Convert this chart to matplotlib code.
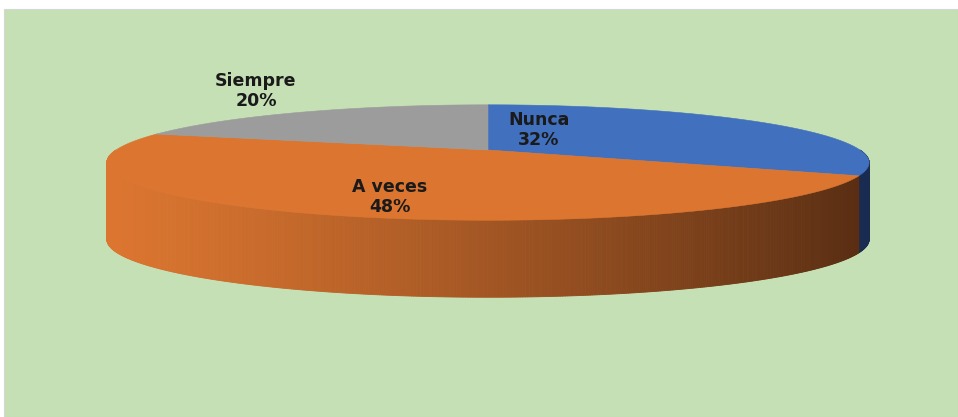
import numpy as np
import matplotlib.pyplot as plt
from matplotlib.patches import Polygon, Rectangle
from matplotlib.colors import to_rgb

# data
labels = ["Nunca", "A veces", "Siempre"]
percents = [32, 48, 20]
top_colors = ["#4170BE", "#DB7530", "#9C9C9C"]
side_light = ["#22396B", "#DB7530", "#7A7A7A"]
side_dark = ["#1A2B52", "#5A2E13", "#5E5E5E"]
label_pos = [(539, 130), (390, 197), (256, 91)]

# pixel canvas
W, H = 958, 417
CX, CY = 488, 150      # pie apex
A, B = 372, 55         # radii of the top face
K = 0.217              # perspective strength
DEPTH = 77             # thickness of the pie


def project(theta):
    u, v = np.cos(theta), np.sin(theta)
    s = 1.0 / (1.0 + K * v)
    return CX + A * u * s, CY - B * v * s


def lerp(c1, c2, f):
    c1, c2 = np.array(to_rgb(c1)), np.array(to_rgb(c2))
    return tuple(c1 + (c2 - c1) * f)


fig = plt.figure(figsize=(W / 100, H / 100), dpi=100)
ax = fig.add_axes([0, 0, 1, 1])
ax.set_xlim(0, W)
ax.set_ylim(H, 0)
ax.axis("off")

ax.add_patch(Rectangle((4, 9), W - 4, H - 9, facecolor="#C5E0B4",
                       edgecolor="#D6D6D6", lw=0.8, zorder=0))

# wedge angle ranges, clockwise from 12 o'clock
total = sum(percents)
starts, ends = [], []
a0 = np.pi / 2
for p in percents:
    a1 = a0 - 2 * np.pi * p / total
    starts.append(a0)
    ends.append(a1)
    a0 = a1

xmin, _ = project(np.pi)
xmax, _ = project(0.0)

# side walls (front half only: theta in [-pi, 0])
for i in range(len(percents)):
    hi, lo = starts[i], ends[i]
    for shift in (0, -2 * np.pi, 2 * np.pi):
        h2 = min(hi + shift, 0.0)
        l2 = max(lo + shift, -np.pi)
        if h2 <= l2:
            continue
        th = np.linspace(l2, h2, max(2, int((h2 - l2) * 200)))
        xs, ys = project(th)
        for j in range(len(th) - 1):
            xm = 0.5 * (xs[j] + xs[j + 1])
            f = np.clip((xm - xmin) / (xmax - xmin), 0, 1) ** 1.2
            c = lerp(side_light[i], side_dark[i], f)
            quad = [(xs[j], ys[j]), (xs[j + 1], ys[j + 1]),
                    (xs[j + 1], ys[j + 1] + DEPTH), (xs[j], ys[j] + DEPTH)]
            ax.add_patch(Polygon(quad, closed=True, facecolor=c,
                                 edgecolor=c, lw=0.6, zorder=1))

# top faces
for i in range(len(percents)):
    th = np.linspace(starts[i], ends[i], 300)
    xs, ys = project(th)
    pts = [(CX, CY)] + list(zip(xs, ys))
    ax.add_patch(Polygon(pts, closed=True, facecolor=top_colors[i],
                         edgecolor=top_colors[i], lw=0.4, zorder=2))

# labels
for name, p, (lx, ly) in zip(labels, percents, label_pos):
    ax.text(lx, ly, f"{name}\n{p}%", ha="center", va="center",
            fontsize=12.5, fontweight="bold", family="DejaVu Sans",
            color="#1A1A1A", linespacing=1.2, zorder=3)

fig.savefig("out.png", dpi=100, facecolor="white")
